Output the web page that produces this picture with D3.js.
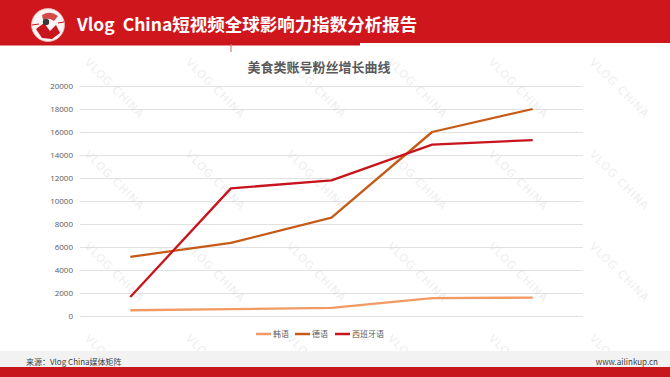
<!DOCTYPE html>
<html>
<head>
<meta charset="utf-8">
<script src="https://cdn.jsdelivr.net/npm/d3@7"></script>
<style>
  body { margin: 0; background: #fff; }
  svg { display: block; }
  text { font-family: "Noto Sans CJK SC", "Noto Sans", sans-serif; }
</style>
</head>
<body>
<script>
// data
var periods = ["1", "2", "3", "4", "5"]
var seriesNames = ["韩语", "德语", "西班牙语"]
var korean = [500, 600, 700, 1550, 1600]
var german = [5150, 6350, 8550, 16000, 18000]
var spanish = [1650, 11100, 11800, 14900, 15300]
var yTicks = [0, 2000, 4000, 6000, 8000, 10000, 12000, 14000, 16000, 18000, 20000]

var colors = ["#f19a64", "#c65a16", "#c8141c"]
var allSeries = [korean, german, spanish]

var W = 670, H = 377

var svg = d3.select("body").append("svg")
  .attr("width", W)
  .attr("height", H)

// watermark "VLOG CHINA" in a grid, behind everything (clipped to the page)
svg.append("clipPath").attr("id", "page")
  .append("rect").attr("x", 0).attr("y", 0).attr("width", W).attr("height", H)
var wm = svg.append("g").attr("clip-path", "url(#page)")
for (var c = 0; c < 7; c++) {
  for (var r = 0; r < 4; r++) {
    var wx = -17 + c * 101
    var wy = 63 + r * 92
    if (wx < 0) continue
    wm.append("text")
      .attr("transform", "translate(" + wx + "," + wy + ") rotate(45)")
      .style("font-size", "11px")
      .style("font-family", "DejaVu Sans, sans-serif")
      .style("letter-spacing", "1px")
      .style("fill", "#eeeeee")
      .text("VLOG CHINA")
  }
}

// header band
svg.append("rect").attr("x", 0).attr("y", 0).attr("width", W).attr("height", 43).style("fill", "#d0161d")
svg.append("rect").attr("x", 0).attr("y", 42).attr("width", 360).attr("height", 3.5).style("fill", "#c9141b")
svg.append("line").attr("x1", 231).attr("x2", 231).attr("y1", 44).attr("y2", 52)
  .style("stroke", "#e06060").style("stroke-width", 1)

// logo
var logo = svg.append("g").attr("transform", "translate(48,25)")
logo.append("circle").attr("r", 16.5).style("fill", "#fbf3f3").style("stroke", "#e8b8b8").style("stroke-width", 0.8)
logo.append("path").attr("d", "M-12,4 L-4,-2 L2,6 L8,0 L12,8 L4,14 L-6,13 Z").style("fill", "#c8141c")
logo.append("path").attr("d", "M-6,-10 Q2,-15 10,-9 L6,-4 Q0,-8 -5,-5 Z").style("fill", "#d24a4a")
logo.append("circle").attr("cx", -2).attr("cy", -3).attr("r", 3.2).style("fill", "#3a3a3a")
logo.append("path").attr("d", "M-16,0 L-9,-1 M10,-2 L16,-3").style("stroke", "#c8141c").style("stroke-width", 1.2)

svg.append("text")
  .attr("x", 77)
  .attr("y", 31)
  .style("font-size", "17.5px")
  .style("font-weight", "bold")
  .style("fill", "#ffffff")
  .attr("xml:space", "preserve")
  .text("Vlog  China短视频全球影响力指数分析报告")

// chart area
var x = d3.scalePoint()
  .domain(periods)
  .range([80, 583])
  .padding(0.5)

var y = d3.scaleLinear()
  .domain([0, 20000])
  .range([316, 86])

var yAxis = svg.append("g")
  .attr("transform", "translate(80,0)")
  .call(d3.axisLeft(y).tickValues(yTicks).tickSize(-503).tickPadding(7).tickFormat(d3.format("d")))
yAxis.select(".domain").remove()
yAxis.selectAll("line").style("stroke", "#d9d9d9").style("stroke-width", 0.8)
yAxis.selectAll("text")
  .style("font-size", "8px")
  .style("font-family", "Open Sans, Noto Sans, sans-serif")
  .style("fill", "#595959")

var line = d3.line()
  .x(function(d, i) { return x(periods[i]) })
  .y(function(d) { return y(d) })

svg.selectAll(".series")
  .data(allSeries)
  .enter()
  .append("path")
  .attr("class", "series")
  .attr("d", function(d) { return line(d) })
  .style("fill", "none")
  .style("stroke", function(d, i) { return colors[i] })
  .style("stroke-width", 2.3)
  .style("stroke-linejoin", "round")

// title
svg.append("text")
  .attr("x", 319)
  .attr("y", 72)
  .attr("text-anchor", "middle")
  .style("font-size", "13px")
  .style("font-weight", "bold")
  .style("fill", "#595959")
  .text("美食类账号粉丝增长曲线")

// legend
var legendX = [256, 295, 335]
var legend = svg.selectAll(".legend")
  .data(seriesNames)
  .enter()
  .append("g")
  .attr("class", "legend")
  .attr("transform", function(d, i) { return "translate(" + legendX[i] + ",334)" })
legend.append("line")
  .attr("x1", 0).attr("x2", 15)
  .style("stroke", function(d, i) { return colors[i] })
  .style("stroke-width", 2.5)
legend.append("text")
  .attr("x", 17)
  .attr("y", 3)
  .style("font-size", "8px")
  .style("fill", "#595959")
  .text(function(d) { return d })

// footer
svg.append("rect").attr("x", 0).attr("y", 351).attr("width", W).attr("height", 16).style("fill", "#f2f2f2")
svg.append("rect").attr("x", 0).attr("y", 367).attr("width", W).attr("height", 10).style("fill", "#c8161d")
svg.append("text")
  .attr("x", 26)
  .attr("y", 365)
  .style("font-size", "8px")
  .style("fill", "#404040")
  .text("来源：Vlog China媒体矩阵")
svg.append("text")
  .attr("x", 658)
  .attr("y", 365)
  .attr("text-anchor", "end")
  .style("font-size", "8px")
  .style("fill", "#404040")
  .text("www.ailinkup.cn")
</script>
</body>
</html>
